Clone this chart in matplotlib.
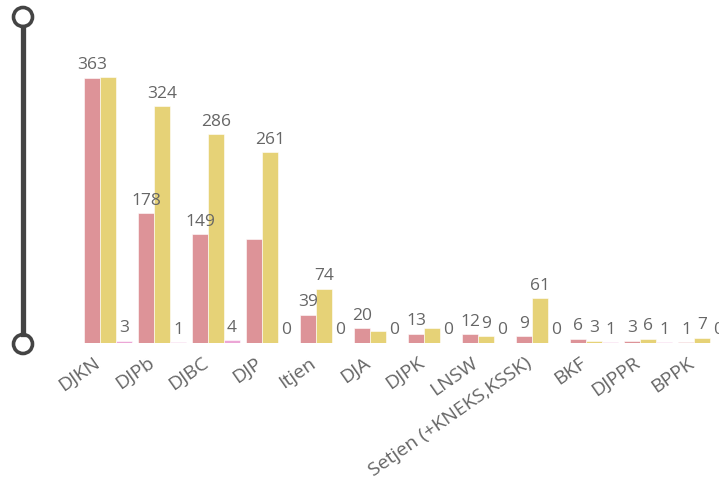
import matplotlib.pyplot as plt
import matplotlib.transforms as mtransforms
import numpy as np
from matplotlib.lines import Line2D
from matplotlib.patches import Circle

plt.rcParams['font.family'] = ['Open Sans', 'DejaVu Sans']

categories = ['DJKN', 'DJPb', 'DJBC', 'DJP', 'Itjen', 'DJA', 'DJPK', 'LNSW',
              'Setjen (+KNEKS,KSSK)', 'BKF', 'DJPPR', 'BPPK']
series_pink = [363, 178, 149, 143, 39, 20, 13, 12, 9, 6, 3, 1]
series_yellow = [365, 324, 286, 261, 74, 17, 21, 9, 61, 3, 6, 7]
series_magenta = [3, 1, 4, 0, 0, 0, 0, 0, 0, 1, 1, 0]

# labels Power BI hides because they overlap (series index, category index)
hidden_labels = {(1, 0), (0, 3), (1, 5), (1, 6)}

colors = ['#dd9398', '#e6d277', '#eca6d6']
label_color = '#666666'

fig = plt.figure(figsize=(7.19, 4.81), dpi=100)
ax = fig.add_axes([60 / 719, 137 / 481, 659 / 719, 292 / 481])

x = np.arange(len(categories))
w = 0.296
all_series = [series_pink, series_yellow, series_magenta]
for s, (vals, col) in enumerate(zip(all_series, colors)):
    pos = x + (s - 1) * w
    ax.bar(pos, vals, width=w, color=col, edgecolor='white', linewidth=0.4)
    for i, v in enumerate(vals):
        if (s, i) in hidden_labels:
            continue
        ax.annotate(str(v), (pos[i], v), xytext=(0, 4), textcoords='offset points',
                    ha='center', va='bottom', fontsize=12.5, color=label_color)

ax.set_xlim((60 - 108) / 54, (719 - 108) / 54)
ax.set_ylim(0, 400)
ax.set_xticks(x)
ax.set_xticklabels(categories, rotation=35, ha='right', rotation_mode='anchor',
                   fontsize=14, color=label_color)
ax.tick_params(axis='x', length=0, pad=7)
shift = mtransforms.ScaledTranslation(-15 / 100, 0, fig.dpi_scale_trans)
for lab in ax.get_xticklabels():
    lab.set_transform(lab.get_transform() + shift)
ax.set_yticks([])
for sp in ax.spines.values():
    sp.set_visible(False)

# scroll slider on the left
slider_col = '#444444'
fig.add_artist(Line2D([23 / 719, 23 / 719], [1 - 28 / 481, 1 - 335 / 481],
                      transform=fig.transFigure, color=slider_col, linewidth=3.8))
for cy in (18, 345):
    fig.add_artist(Circle((23, 481 - cy), 9.5, transform=None, facecolor='white',
                          edgecolor=slider_col, linewidth=2.6))

fig.savefig('out.png', dpi=100)
